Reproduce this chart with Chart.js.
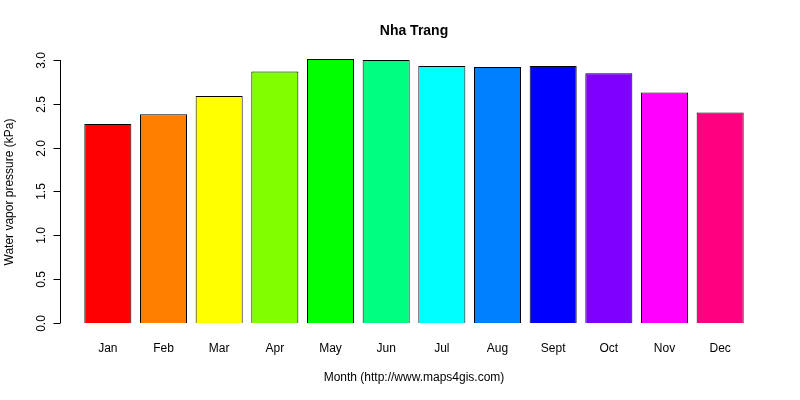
<!DOCTYPE html><html><head><script src="https://cdn.jsdelivr.net/npm/chart.js@4"></script>
<style>body{margin:0;background:#fff}#w{width:800px;height:400px}</style></head><body><div id="w"><canvas id="c"></canvas></div>
<script>
const months=["Jan","Feb","Mar","Apr","May","Jun","Jul","Aug","Sept","Oct","Nov","Dec"];
const vapor=[2.27,2.38,2.59,2.87,3.01,3.00,2.93,2.92,2.93,2.85,2.63,2.40];
const colors=["#FF0000","#FF8000","#FFFF00","#80FF00","#00FF00","#00FF80","#00FFFF","#0080FF","#0000FF","#8000FF","#FF00FF","#FF0080"];
const yTicks=[0,0.5,1,1.5,2,2.5,3];
const F="Liberation Sans, Arial, sans-serif";
const deco={id:"deco",afterDraw(ch){
 const c=ch.ctx,y=ch.scales.y,x=ch.scales.x;c.save();c.fillStyle="#000";c.strokeStyle="#000";c.lineWidth=1;
 const ax=60.5;c.beginPath();c.moveTo(ax,y.getPixelForValue(0));c.lineTo(ax,y.getPixelForValue(3));c.stroke();
 c.font="12px "+F;
 yTicks.forEach(v=>{const p=Math.round(y.getPixelForValue(v))+0.5;c.beginPath();c.moveTo(ax,p);c.lineTo(ax-7,p);c.stroke();
  c.save();c.translate(42,p);c.rotate(-Math.PI/2);c.textAlign="center";c.textBaseline="middle";c.fillText(v.toFixed(1),0,0);c.restore();});
 c.textAlign="center";c.textBaseline="middle";
 months.forEach((m,i)=>c.fillText(m,x.getPixelForValue(i),349));
 c.fillText("Month (http://www.maps4gis.com)",414,378);
 c.save();c.translate(10,192);c.rotate(-Math.PI/2);c.fillText("Water vapor pressure (kPa)",0,0);c.restore();
 c.font="bold 14px "+F;c.fillText("Nha Trang",414,31);c.restore();}};
new Chart(document.getElementById("c"),{type:"bar",data:{labels:months,datasets:[{data:vapor,backgroundColor:colors,borderColor:"#000",borderWidth:1,categoryPercentage:1,barPercentage:0.845}]},
options:{responsive:true,maintainAspectRatio:false,animation:false,layout:{padding:{left:80,right:52,top:55.6,bottom:77}},
plugins:{legend:{display:false},tooltip:{enabled:false}},
scales:{x:{display:false},y:{display:false,min:0,max:3.05}}},plugins:[deco]});
</script></body></html>
